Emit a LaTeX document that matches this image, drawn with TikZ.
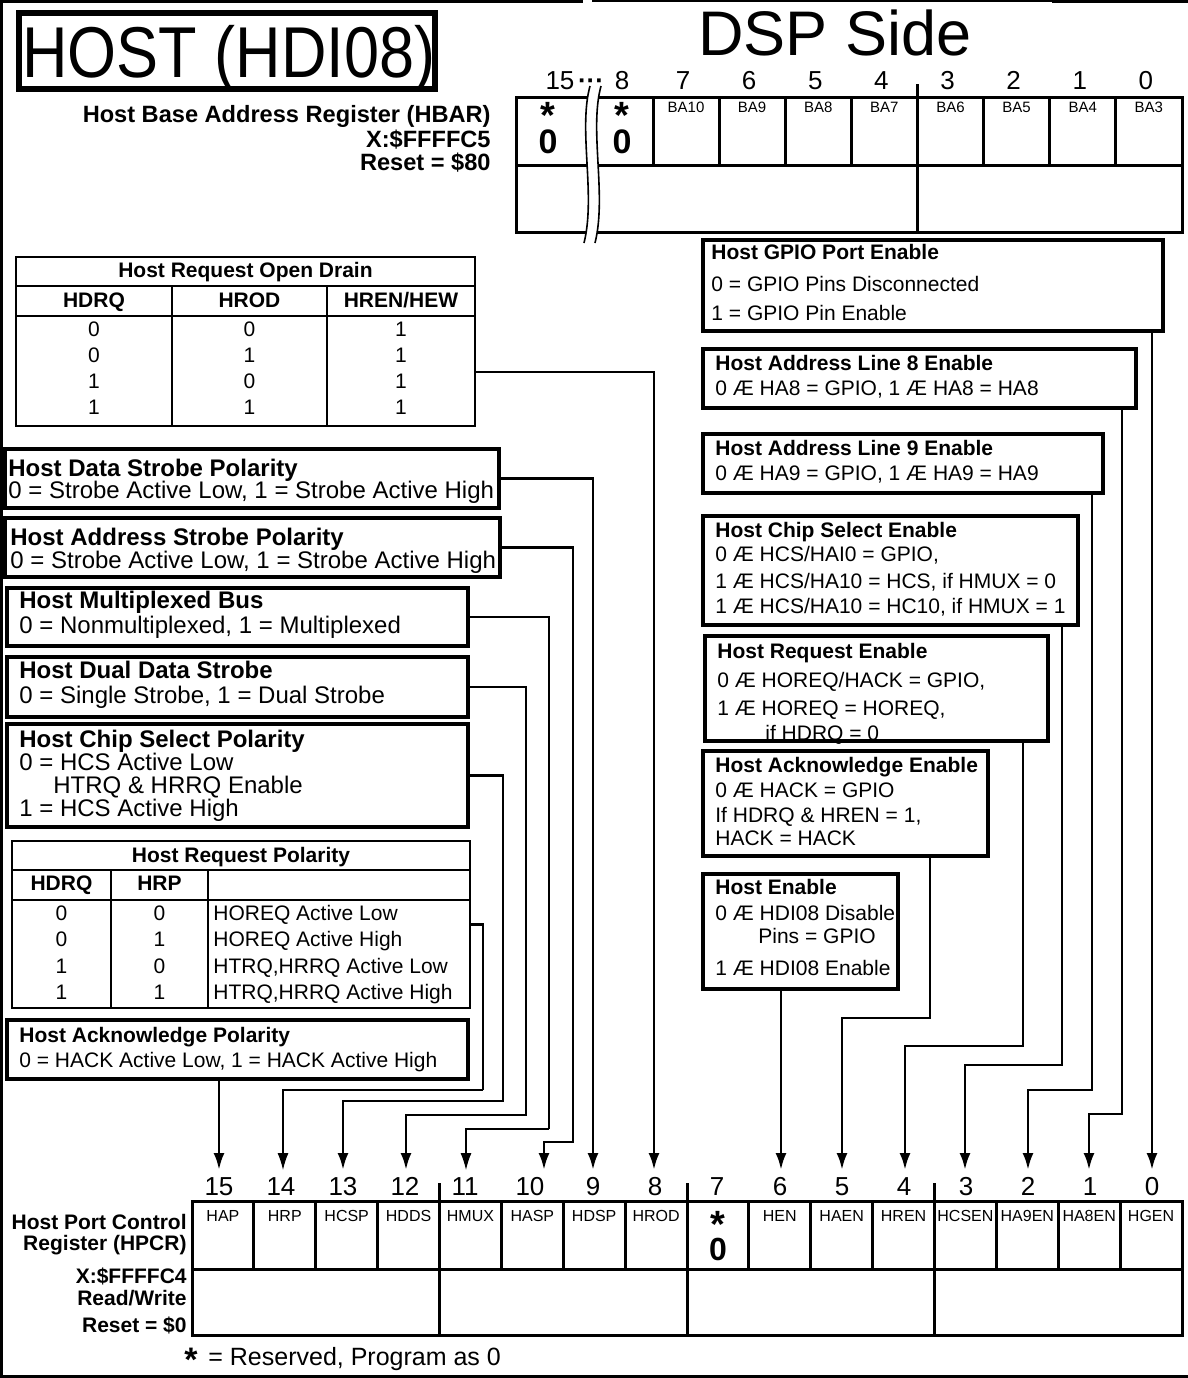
\documentclass[tikz,border=0pt]{standalone}
\usepackage{fontspec}
\setmainfont{Liberation Sans}
\usetikzlibrary{arrows.meta}
\newcommand\fsz[1]{\fontsize{#1}{#1}\selectfont}
\begin{document}
\begin{tikzpicture}[x=0.5pt,y=-0.5pt]
\tikzset{
  frame/.style={line width=1.5pt},
  box/.style={draw, line width=1.6pt, inner sep=0, outer sep=0},
  tblbox/.style={draw, line width=1.2pt, inner sep=0, outer sep=0},
  rule/.style={line width=1.1pt},
  reg/.style={line width=1.5pt},
  wire/.style={line width=1.4pt},
  conn/.style={line width=1.4pt, -{Latex[length=8.5pt,width=5.5pt]}},
  thinconn/.style={line width=0.6pt, -{Latex[length=8.5pt,width=5.5pt]}},
  lt/.style={inner sep=0, anchor=base west, font=\fsz{12pt}},
  lb/.style={inner sep=0, anchor=base west, font=\bfseries\fsz{12pt}},
  rt/.style={inner sep=0, anchor=base west, font=\fsz{10.5pt}},
  rb/.style={inner sep=0, anchor=base west, font=\bfseries\fsz{10.5pt}},
  ct/.style={inner sep=0, anchor=base, font=\fsz{10.5pt}},
  cb/.style={inner sep=0, anchor=base, font=\bfseries\fsz{10.5pt}},
  cell/.style={inner sep=0, anchor=base, font=\fsz{8pt}},
  cellb/.style={inner sep=0, anchor=base, font=\fsz{7.5pt}},
  bit/.style={inner sep=0, anchor=base, font=\fsz{13pt}},
  regl/.style={inner sep=0, anchor=base east, font=\bfseries\fsz{10.5pt}},
  star/.style={inner sep=0, anchor=base, font=\bfseries\fsz{19pt}},
  zero/.style={inner sep=0, anchor=base, font=\bfseries\fsz{17pt}},
}
\useasboundingbox (0,0) rectangle (1188,1378);
% outer frame
\draw[frame] (1.5,0) -- (1.5,1376.5) -- (1188,1376.5);
\draw[frame] (0,1.5) -- (583,1.5);
\draw[line width=0.8pt] (592,1) -- (1052,1);
\draw[frame] (1052,1.5) -- (1188,1.5);

% titles
\node[inner sep=0, anchor=base west, font=\fsz{36pt}] (titletext) at (22,77) {\scalebox{0.875}[1]{HOST (HDI08)}};
\node[draw, line width=3pt, minimum width=208pt, minimum height=38pt, inner sep=0] (title) at (227,51) {};
\node[inner sep=0, anchor=base, font=\fsz{31.5pt}] (dsp) at (835,55) {DSP Side};

% HBAR register
\node[regl, font=\bfseries\fsz{11.8pt}] (hbar1) at (491,122) {Host Base Address Register (HBAR)};
\node[regl, font=\bfseries\fsz{11.8pt}] (hbar2) at (491,147) {X:\$FFFFC5};
\node[regl, font=\bfseries\fsz{11.8pt}] (hbar3) at (491,170) {Reset = \$80};
\draw[reg] (516,97) rectangle (1182,232);
\draw[reg] (516,165) -- (1182,165);
\foreach \i in {0,...,7} \draw[reg] ({653+66.125*\i},97) -- ({653+66.125*\i},165);
\draw[reg] (917.5,84) -- (917.5,232);
\fill[white] (590,86) .. controls (578,130) and (596,195) .. (584,243) -- (595,243) .. controls (607,195) and (589,130) .. (601,86) -- cycle;
\draw[line width=0.8pt] (590,86) .. controls (578,130) and (596,195) .. (584,243);
\draw[line width=0.8pt] (601,86) .. controls (589,130) and (607,195) .. (595,243);
\node[bit] (hb15) at (560,89) {15};
\node[bit, font=\bfseries\fsz{13pt}] (hbdots) at (591,89) {\char"00B7\char"00B7\char"00B7};
\node[bit] (hb8) at (622,89) {8};
\foreach \i/\b in {0/7,1/6,2/5,3/4,4/3,5/2,6/1,7/0}
  \node[bit] (hb\b) at ({683+66.125*\i},89) {\b};
\node[star] (hs1) at (548,128) {*};
\node[zero] (hz1) at (548,153) {0};
\node[star] (hs2) at (622,128) {*};
\node[zero] (hz2) at (622,153) {0};
\foreach \i/\t in {0/BA10,1/BA9,2/BA8,3/BA7,4/BA6,5/BA5,6/BA4,7/BA3}
  \node[cellb] (ba\i) at ({686+66.125*\i},112) {\t};

% Host Request Open Drain table
\node[tblbox, minimum width=229.5pt, minimum height=84.5pt] (od) at (245.5,341.5) {};
\draw[rule] (16,286) -- (475,286);
\draw[rule] (16,316) -- (475,316);
\draw[rule] (172,286) -- (172,426);
\draw[rule] (327,286) -- (327,426);
\node[cb] (odt) at (245.5,277) {Host Request Open Drain};
\node[cb] (odh1) at (94,307) {HDRQ};
\node[cb] (odh2) at (249.5,307) {HROD};
\node[cb] (odh3) at (401,307) {HREN/HEW};
\foreach \r/\a/\b/\y in {1/0/0/336,2/0/1/362,3/1/0/388,4/1/1/414}{
  \node[ct] (oda\r) at (94,\y) {\a};
  \node[ct] (odb\r) at (249.5,\y) {\b};
  \node[ct] (odc\r) at (401,\y) {1};
}

% left boxes
\node[box, minimum width=247pt, minimum height=29.5pt] (hdsp) at (252,478.5) {};
\node[lb] (hdsp1) at (8,476.5) {Host Data Strobe Polarity};
\node[lt] (hdsp2) at (8,498.5) {0 = Strobe Active Low, 1 = Strobe Active High};

\node[box, minimum width=247.5pt, minimum height=29.5pt] (hasp) at (252.5,547.5) {};
\node[lb] (hasp1) at (10,545) {Host Address Strobe Polarity};
\node[lt] (hasp2) at (10,568) {0 = Strobe Active Low, 1 = Strobe Active High};

\node[box, minimum width=230.5pt, minimum height=29pt] (hmux) at (237.5,617) {};
\node[lb] (hmux1) at (19,608) {Host Multiplexed Bus};
\node[lt] (hmux2) at (19,633) {0 = Nonmultiplexed, 1 = Multiplexed};

\node[box, minimum width=230.5pt, minimum height=30pt] (hdds) at (237.5,687) {};
\node[lb] (hdds1) at (19,678) {Host Dual Data Strobe};
\node[lt] (hdds2) at (19,703) {0 = Single Strobe, 1 = Dual Strobe};

\node[box, minimum width=230.5pt, minimum height=51.5pt] (hcsp) at (237.5,775.5) {};
\node[lb] (hcsp1) at (19,747) {Host Chip Select Polarity};
\node[lt] (hcsp2) at (19,770) {0 = HCS Active Low};
\node[lt] (hcsp3) at (53,793) {HTRQ \& HRRQ Enable};
\node[lt] (hcsp4) at (19,816) {1 = HCS Active High};

% Host Request Polarity table
\node[tblbox, minimum width=229pt, minimum height=83.5pt] (hrp) at (241,924.5) {};
\draw[rule] (12,870) -- (470,870);
\draw[rule] (12,900) -- (470,900);
\draw[rule] (111,870) -- (111,1008);
\draw[rule] (208,870) -- (208,1008);
\node[cb] (hrpt) at (241,862) {Host Request Polarity};
\node[cb] (hrph1) at (61.5,890) {HDRQ};
\node[cb] (hrph2) at (159.5,890) {HRP};
\foreach \r/\a/\b/\y/\t in {1/0/0/920/HOREQ Active Low,2/0/1/946.5/HOREQ Active High,3/1/0/973/{HTRQ,HRRQ Active Low},4/1/1/999.5/{HTRQ,HRRQ Active High}}{
  \node[ct] (hrpa\r) at (61.5,\y) {\a};
  \node[ct] (hrpb\r) at (159.5,\y) {\b};
  \node[rt] (hrpc\r) at (213,\y) {\t};
}

\node[box, minimum width=230.5pt, minimum height=29.5pt] (hap) at (237.5,1049.5) {};
\node[rb] (hap1) at (19,1042) {Host Acknowledge Polarity};
\node[rt] (hap2) at (19,1067) {0 = HACK Active Low, 1 = HACK Active High};

% right boxes
\node[box, minimum width=230pt, minimum height=45.5pt] (hgen) at (933,285.5) {};
\node[rb] (hgen1) at (711,259) {Host GPIO Port Enable};
\node[rt] (hgen2) at (711,291) {0 = GPIO Pins Disconnected};
\node[rt] (hgen3) at (711,320) {1 = GPIO Pin Enable};

\node[box, minimum width=216.5pt, minimum height=29.5pt] (ha8) at (919.5,378.5) {};
\node[rb] (ha81) at (715,370) {Host Address Line 8 Enable};
\node[rt] (ha82) at (715,395) {0 Æ HA8 = GPIO, 1 Æ HA8 = HA8};

\node[box, minimum width=200pt, minimum height=29.5pt] (ha9) at (903,463.5) {};
\node[rb] (ha91) at (715,455) {Host Address Line 9 Enable};
\node[rt] (ha92) at (715,480) {0 Æ HA9 = GPIO, 1 Æ HA9 = HA9};

\node[box, minimum width=187.5pt, minimum height=54.5pt] (hcsen) at (890.5,570.5) {};
\node[rb] (hcsen1) at (715,537) {Host Chip Select Enable};
\node[rt] (hcsen2) at (715,561) {0 Æ HCS/HAI0 = GPIO,};
\node[rt] (hcsen3) at (715,588) {1 Æ HCS/HA10 = HCS, if HMUX = 0};
\node[rt] (hcsen4) at (715,613) {1 Æ HCS/HA10 = HC10, if HMUX = 1};

\node[rb] (hren1) at (717,658) {Host Request Enable};
\node[rt] (hren2) at (717,687) {0 Æ HOREQ/HACK = GPIO,};
\node[rt] (hren3) at (717,715) {1 Æ HOREQ = HOREQ,};
\node[rt] (hren4) at (765,740) {if HDRQ = 0};
\node[box, minimum width=171.5pt, minimum height=52.5pt] (hren) at (876.5,688.5) {};

\node[box, minimum width=142.5pt, minimum height=52.5pt] (haen) at (845.5,803.5) {};
\node[rb] (haen1) at (715,772) {Host Acknowledge Enable};
\node[rt] (haen2) at (715,797) {0 Æ HACK = GPIO};
\node[rt] (haen3) at (715,822) {If HDRQ \& HREN = 1,};
\node[rt] (haen4) at (715,845) {HACK = HACK};

\node[box, minimum width=97.5pt, minimum height=57.5pt] (hen) at (800.5,931.5) {};
\node[rb] (hen1) at (715,894) {Host Enable};
\node[rt] (hen2) at (715,920) {0 Æ HDI08 Disable};
\node[rt] (hen3) at (758,943) {Pins = GPIO};
\node[rt] (hen4) at (715,975) {1 Æ HDI08 Enable};

% HPCR register
\node[regl] (hp1) at (187,1229) {Host Port Control};
\node[regl] (hp2) at (187,1250) {Register (HPCR)};
\node[regl] (hp3) at (187,1283) {X:\$FFFFC4};
\node[regl] (hp4) at (187,1305) {Read/Write};
\node[regl] (hp5) at (187,1332) {Reset = \$0};
\draw[reg] (192,1201) rectangle (1182,1335);
\draw[reg] (192,1269) -- (1182,1269);
\foreach \i in {1,...,15} \draw[reg] ({192+61.875*\i},1201) -- ({192+61.875*\i},1269);
\foreach \i in {4,8,12} \draw[reg] ({192+61.875*\i},1183) -- ({192+61.875*\i},1335);
\foreach \i/\t in {0/HAP,1/HRP,2/HCSP,3/HDDS,4/HMUX,5/HASP,6/HDSP,7/HROD,9/HEN,10/HAEN,11/HREN,12/HCSEN,13/HA9EN,14/HA8EN,15/HGEN}
  \node[cell] (c\i) at ({192+61.875*(\i+0.5)},1221) {\t};
\node[star] (ps) at (718,1237) {*};
\node[zero, font=\bfseries\fsz{16pt}] (pz) at (718,1260) {0};
\foreach \b/\x in {15/219,14/281,13/343,12/405,11/465,10/530,9/593,8/655,7/717,6/780,5/842,4/904,3/966,2/1028,1/1090,0/1152}
  \node[bit] (d\b) at (\x,1195) {\b};

% arrow tips
\foreach \b/\x in {15/219,14/283,13/343,12/406,11/466,10/544,9/593,8/654,6/781,5/842,4/905,3/965,2/1028,1/1089,0/1152}
  \coordinate (t\b) at (\x,1170);

% connectors, left
\draw[conn] (od.east |- 0,372) -| (t8);
\draw[conn] (hdsp.east) -| (t9);
\draw[conn] (hasp.east) -| (573,1142) -| (t10);
\draw[wire] (hmux.east) -| (549,1129);
\draw[thinconn] (549,1129) -| (t11);
\draw[conn] (hdds.east) -| (526,1115) -| (t12);
\draw[conn] (hcsp.east) -| (503,1101) -| (t13);
\draw[wire] (hrp.east) -| (483,1090);
\draw[thinconn] (483,1090) -| (t14);
\draw[conn] (hap.south -| t15) -- (t15);
% connectors, right
\draw[conn] (hen.south -| t6) -- (t6);
\draw[conn] (haen.south -| 930,0) |- (t5 |- 0,1018) -- (t5);
\draw[conn] (hren.south -| 1023,0) |- (t4 |- 0,1046) -- (t4);
\draw[conn] (hcsen.south -| 1062,0) |- (t3 |- 0,1065) -- (t3);
\draw[conn] (ha9.south -| 1092,0) |- (t2 |- 0,1090) -- (t2);
\draw[conn] (ha8.south -| 1122,0) |- (t1 |- 0,1114) -- (t1);
\draw[conn] (hgen.south -| t0) -- (t0);

% footnote
\node[inner sep=0, anchor=base, font=\bfseries\fsz{17pt}] (fstar) at (191,1371) {*};
\node[inner sep=0, anchor=base west, font=\fsz{12.5pt}] (fnote) at (208,1365) {= Reserved, Program as 0};
\end{tikzpicture}
\end{document}
